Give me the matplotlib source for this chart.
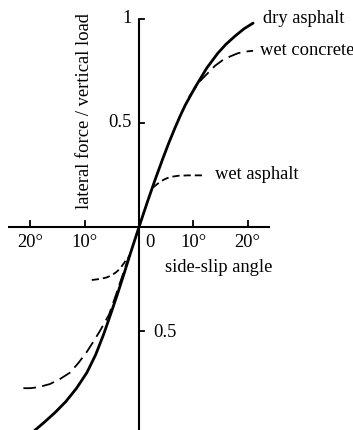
import matplotlib
matplotlib.use("Agg")
import matplotlib.pyplot as plt

# Data (side-slip angle in degrees, lateral/vertical ratio)
dry_x = [-21.0, -19.3, -17.5, -15.5, -13.5, -11.5, -9.6, -8.0, -6.5, -5.3,
         -4.0, -2.8, -1.5, 0.0,
         1.6, 3.0, 4.4, 5.5, 6.6, 7.6, 8.5, 10.3, 12.5, 14.5, 16.0, 17.7,
         19.3, 21.0]
dry_y = [-1.02, -0.98, -0.94, -0.893, -0.84, -0.775, -0.70, -0.615, -0.515, -0.425,
         -0.325, -0.228, -0.12, 0.0,
         0.125, 0.23, 0.33, 0.405, 0.475, 0.535, 0.585, 0.67, 0.765, 0.835, 0.878, 0.918,
         0.952, 0.98]

wc_neg_x = [-21.3, -20.0, -18.5, -16.4, -14.5, -12.7, -11.2, -9.6, -8.5, -7.2,
            -5.5, -4.3, -3.0, -1.7]
wc_neg_y = [-0.775, -0.775, -0.77, -0.755, -0.73, -0.70, -0.655, -0.60, -0.555,
            -0.50, -0.42, -0.33, -0.23, -0.13]
wc_pos_x = [9.2, 10.0, 11.2, 12.5, 14.0, 15.3, 16.8, 18.2, 19.6, 21.0]
wc_pos_y = [0.625, 0.655, 0.70, 0.735, 0.775, 0.80, 0.82, 0.835, 0.843, 0.847]

wa_neg_x = [-8.7, -7.2, -6.0, -5.0, -4.1, -3.5, -2.8, -2.0]
wa_neg_y = [-0.255, -0.25, -0.243, -0.232, -0.215, -0.20, -0.175, -0.145]
wa_pos_x = [2.6, 3.3, 3.9, 4.6, 5.3, 6.2, 7.2, 9.0, 11.8]
wa_pos_y = [0.19, 0.205, 0.217, 0.228, 0.236, 0.242, 0.246, 0.248, 0.248]

x_ticks = [-20, -10, 10, 20]
x_tick_labels = ["20°", "10°", "10°", "20°"]

FONT = "Liberation Serif"
FS = 13.3
fig = plt.figure(figsize=(3.53, 4.30), dpi=100)
ax = fig.add_axes([0, 0, 1, 1])
ax.set_xlim(-25.6, 39.4)
ax.set_ylim(-0.976, 1.091)
ax.axis("off")

# axes lines
ax.plot([-24.1, 24.1], [0, 0], color="black", lw=1.5, solid_capstyle="butt")
ax.plot([0, 0], [1.0, -1.1], color="black", lw=1.5, solid_capstyle="butt")

# x ticks (pointing up)
for xt, lab in zip(x_ticks, x_tick_labels):
    ax.plot([xt, xt], [0, 0.03], color="black", lw=1.3)
    ax.text(xt, -0.075, lab, ha="center", va="center", fontsize=FS, family=FONT)
ax.text(2.0, -0.075, "0", ha="center", va="center", fontsize=FS, family=FONT)

# y ticks (pointing right)
for yt in [1.0, 0.5, -0.5]:
    ax.plot([0, 1.0], [yt, yt], color="black", lw=1.3)
ax.text(-1.4, 1.0, "1", ha="right", va="center", fontsize=FS, family=FONT)
ax.text(-1.4, 0.5, "0.5", ha="right", va="center", fontsize=FS, family=FONT)
ax.text(2.6, -0.505, "0.5", ha="left", va="center", fontsize=FS, family=FONT)

# curves
ax.plot(dry_x, dry_y, color="black", lw=2.0, solid_capstyle="round",
        solid_joinstyle="round")
ax.plot(wc_neg_x, wc_neg_y, color="black", lw=1.3, dashes=(7, 3.5))
ax.plot(wc_pos_x, wc_pos_y, color="black", lw=1.3, dashes=(7, 3.5))
ax.plot(wa_neg_x, wa_neg_y, color="black", lw=1.3, dashes=(4, 2.2))
ax.plot(wa_pos_x, wa_pos_y, color="black", lw=1.3, dashes=(4, 2.2))

# labels
ax.text(22.8, 1.0, "dry asphalt", ha="left", va="center", fontsize=FS, family=FONT)
ax.text(22.2, 0.85, "wet concrete", ha="left", va="center", fontsize=FS, family=FONT)
ax.text(14.0, 0.25, "wet asphalt", ha="left", va="center", fontsize=FS, family=FONT)
ax.text(4.8, -0.197, "side-slip angle", ha="left", va="center", fontsize=FS, family=FONT)
ax.text(-10.0, 0.555, "lateral force / vertical load", ha="center", va="center",
        rotation=90, fontsize=FS, family=FONT)

fig.savefig("out.png", dpi=100)
